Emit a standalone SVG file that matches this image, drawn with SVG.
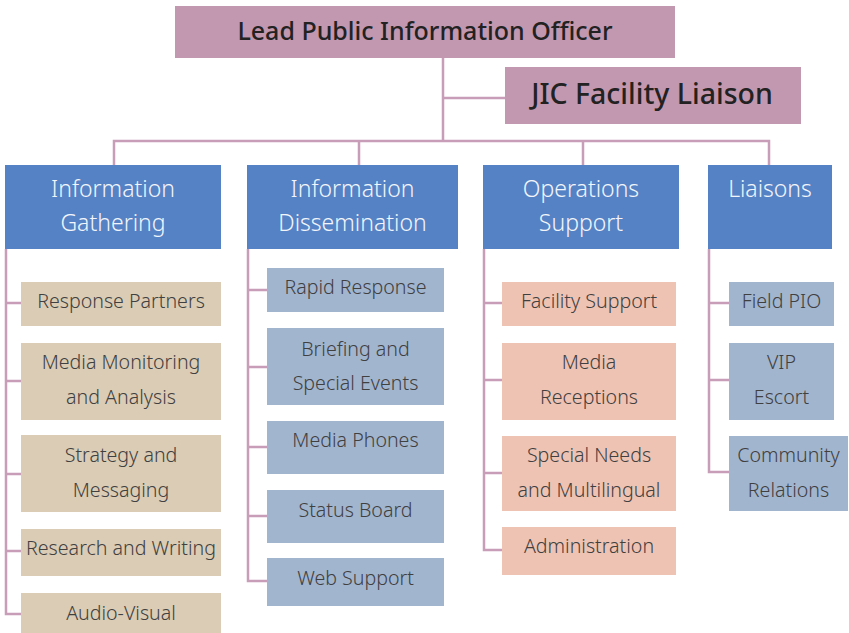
<svg xmlns="http://www.w3.org/2000/svg" width="849" height="633" viewBox="0 0 849 633">
<style>
.top{fill:#C297B0}
.hdr{fill:#5582C4}
.tan{fill:#DBCCB5}
.blu{fill:#A2B5CF}
.pch{fill:#EFC3B3}
text{font-family:"Noto Sans","Open Sans","Liberation Sans",sans-serif;text-anchor:middle}
.tt{fill:#222;font-size:25px;font-weight:500}
.jt{fill:#222;font-size:28.5px;font-weight:500}
.ht{fill:#F2F5FB;font-size:23px;font-weight:300}
.ct{fill:#404040;font-size:19.6px;font-weight:300}
.ln{fill:none;stroke:#C79DB8;stroke-width:2.5}
</style>
<g id="connectors" class="ln">
<path d="M443 58V141M443 98H505"/>
<path d="M114 165V141H769V165M359 141V165M583 141V165"/>
<path d="M6 249V614H21M6 303H21M6 381H21M6 474H21M6 551H21"/>
<path d="M248 249V581H267M248 290H267M248 367H267M248 447H267M248 516H267"/>
<path d="M484 249V550H502M484 303H502M484 380H502M484 473H502"/>
<path d="M709 249V472H729M709 303H729M709 380H729"/>
</g>
<g id="lead"><rect class="top" x="175" y="6" width="500" height="52"/><text class="tt" x="425" y="40">Lead Public Information Officer</text></g>
<g id="jic"><rect class="top" x="505" y="67" width="296" height="57"/><text class="jt" x="652" y="104">JIC Facility Liaison</text></g>

<g id="info-gathering"><rect class="hdr" x="5" y="165" width="216" height="84"/><text class="ht" x="113" y="197">Information</text><text class="ht" x="113" y="231">Gathering</text></g>
<g id="info-dissemination"><rect class="hdr" x="247" y="165" width="211" height="84"/><text class="ht" x="352.5" y="197">Information</text><text class="ht" x="352.5" y="231">Dissemination</text></g>
<g id="ops-support"><rect class="hdr" x="483" y="165" width="196" height="84"/><text class="ht" x="581" y="197">Operations</text><text class="ht" x="581" y="231">Support</text></g>
<g id="liaisons"><rect class="hdr" x="708" y="165" width="124" height="84"/><text class="ht" x="770" y="197">Liaisons</text></g>

<g id="response-partners"><rect class="tan" x="21" y="282" width="200" height="44"/><text class="ct" x="121" y="308">Response Partners</text></g>
<g id="media-monitoring"><rect class="tan" x="21" y="343" width="200" height="77"/><text class="ct" x="121" y="369">Media Monitoring</text><text class="ct" x="121" y="404">and Analysis</text></g>
<g id="strategy"><rect class="tan" x="21" y="435" width="200" height="77"/><text class="ct" x="121" y="462">Strategy and</text><text class="ct" x="121" y="497">Messaging</text></g>
<g id="research"><rect class="tan" x="21" y="529" width="200" height="47"/><text class="ct" x="121" y="555">Research and Writing</text></g>
<g id="audio-visual"><rect class="tan" x="21" y="593" width="200" height="40"/><text class="ct" x="121" y="620">Audio-Visual</text></g>

<g id="rapid-response"><rect class="blu" x="267" y="268" width="177" height="44"/><text class="ct" x="355.5" y="294">Rapid Response</text></g>
<g id="briefing"><rect class="blu" x="267" y="328" width="177" height="77"/><text class="ct" x="355.5" y="356">Briefing and</text><text class="ct" x="355.5" y="390">Special Events</text></g>
<g id="media-phones"><rect class="blu" x="267" y="421" width="177" height="53"/><text class="ct" x="355.5" y="447">Media Phones</text></g>
<g id="status-board"><rect class="blu" x="267" y="490" width="177" height="53"/><text class="ct" x="355.5" y="517">Status Board</text></g>
<g id="web-support"><rect class="blu" x="267" y="558" width="177" height="48"/><text class="ct" x="355.5" y="585">Web Support</text></g>

<g id="facility-support"><rect class="pch" x="502" y="282" width="174" height="44"/><text class="ct" x="589" y="308">Facility Support</text></g>
<g id="media-receptions"><rect class="pch" x="502" y="343" width="174" height="77"/><text class="ct" x="589" y="369">Media</text><text class="ct" x="589" y="404">Receptions</text></g>
<g id="special-needs"><rect class="pch" x="502" y="436" width="174" height="75"/><text class="ct" x="589" y="462">Special Needs</text><text class="ct" x="589" y="497">and Multilingual</text></g>
<g id="administration"><rect class="pch" x="502" y="527" width="174" height="48"/><text class="ct" x="589" y="553">Administration</text></g>

<g id="field-pio"><rect class="blu" x="729" y="282" width="105" height="44"/><text class="ct" x="781.5" y="308">Field PIO</text></g>
<g id="vip-escort"><rect class="blu" x="729" y="343" width="105" height="77"/><text class="ct" x="781.5" y="369">VIP</text><text class="ct" x="781.5" y="404">Escort</text></g>
<g id="community-relations"><rect class="blu" x="729" y="436" width="119" height="75"/><text class="ct" x="788.5" y="462">Community</text><text class="ct" x="788.5" y="497">Relations</text></g>
</svg>
